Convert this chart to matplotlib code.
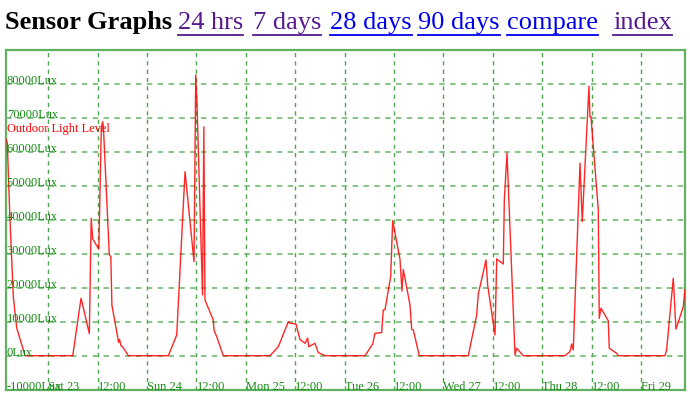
import matplotlib
matplotlib.use("Agg")
import matplotlib.pyplot as plt
from matplotlib.lines import Line2D
import pandas as pd

# ---------------- data ----------------
times = [
    "2024-03-22 13:43", "2024-03-22 14:02", "2024-03-22 14:41", "2024-03-22 15:30",
    "2024-03-22 16:19", "2024-03-22 18:20",
    "2024-03-23 05:56", "2024-03-23 07:57", "2024-03-23 08:21", "2024-03-23 09:58",
    "2024-03-23 10:25", "2024-03-23 10:47", "2024-03-23 12:16", "2024-03-23 12:53",
    "2024-03-23 13:13", "2024-03-23 13:25", "2024-03-23 14:49", "2024-03-23 15:11",
    "2024-03-23 15:27", "2024-03-23 17:05", "2024-03-23 17:18", "2024-03-23 17:40",
    "2024-03-23 18:05", "2024-03-23 19:26",
    "2024-03-24 05:09", "2024-03-24 07:12", "2024-03-24 09:13", "2024-03-24 11:24",
    "2024-03-24 11:49", "2024-03-24 12:08", "2024-03-24 13:28", "2024-03-24 13:47",
    "2024-03-24 14:04", "2024-03-24 16:05", "2024-03-24 16:15", "2024-03-24 16:55",
    "2024-03-24 18:31",
    "2024-03-25 05:52", "2024-03-25 07:53", "2024-03-25 10:19", "2024-03-25 10:43",
    "2024-03-25 12:11", "2024-03-25 13:09", "2024-03-25 14:22", "2024-03-25 15:01",
    "2024-03-25 15:16", "2024-03-25 16:48", "2024-03-25 17:36", "2024-03-25 19:14",
    "2024-03-26 04:57", "2024-03-26 06:49", "2024-03-26 07:22", "2024-03-26 09:00",
    "2024-03-26 09:23", "2024-03-26 09:48", "2024-03-26 11:11", "2024-03-26 11:40",
    "2024-03-26 13:27", "2024-03-26 13:56", "2024-03-26 14:15", "2024-03-26 15:53",
    "2024-03-26 16:17", "2024-03-26 16:41", "2024-03-26 18:08",
    "2024-03-27 06:03", "2024-03-27 08:05", "2024-03-27 08:28", "2024-03-27 10:21",
    "2024-03-27 10:45", "2024-03-27 12:32", "2024-03-27 12:57", "2024-03-27 14:33",
    "2024-03-27 14:48", "2024-03-27 15:27", "2024-03-27 17:24", "2024-03-27 17:48",
    "2024-03-27 19:24",
    "2024-03-28 05:32", "2024-03-28 06:45", "2024-03-28 07:10", "2024-03-28 07:33",
    "2024-03-28 09:11", "2024-03-28 09:44", "2024-03-28 11:22", "2024-03-28 11:36",
    "2024-03-28 11:51", "2024-03-28 13:38", "2024-03-28 13:52", "2024-03-28 14:17",
    "2024-03-28 16:03", "2024-03-28 16:18", "2024-03-28 18:06", "2024-03-28 18:29",
    "2024-03-29 05:50", "2024-03-29 06:14", "2024-03-29 07:51", "2024-03-29 08:30",
    "2024-03-29 10:17", "2024-03-29 10:42",
]
lux = [
    63800, 62600, 40000, 17300,
    8200, 0,
    0, 16900, 14900, 6500,
    40500, 34400, 31400, 67400,
    68900, 66500, 29700, 29200,
    14900, 3900, 4800, 2900,
    2600, 0,
    0, 6100, 54200, 27700,
    82700, 73800, 17900, 67400,
    16400, 10500, 7600, 5600,
    0,
    0, 2650, 10000, 9600,
    9300, 4800, 3650, 5200,
    2650, 3650, 900, 0,
    0, 3450, 6600, 6800,
    13500, 13500, 23300, 39800,
    28400, 19100, 25400, 14900,
    7800, 7600, 0,
    0, 12000, 18100, 28200,
    20800, 6100, 28500, 27000,
    45900, 59700, 200, 2200,
    0,
    0, 1200, 3450, 1700,
    56700, 39500, 79400, 70400,
    70400, 42900, 11000, 14000,
    10300, 2200, 700, 0,
    0, 1700, 22800, 7800,
    14400, 19500,
]
x_start = "2024-03-22 13:43"
x_end = "2024-03-29 10:42"
tick_times = ["2024-03-23 00:00", "2024-03-23 12:00", "2024-03-24 00:00", "2024-03-24 12:00",
              "2024-03-25 00:00", "2024-03-25 12:00", "2024-03-26 00:00", "2024-03-26 12:00",
              "2024-03-27 00:00", "2024-03-27 12:00", "2024-03-28 00:00", "2024-03-28 12:00",
              "2024-03-29 00:00"]
tick_labels = ["Sat 23", "12:00", "Sun 24", "12:00", "Mon 25", "12:00", "Tue 26", "12:00",
               "Wed 27", "12:00", "Thu 28", "12:00", "Fri 29"]
y_ticks = [-10000, 0, 10000, 20000, 30000, 40000, 50000, 60000, 70000, 80000]
y_labels = [f"{v}Lux" for v in y_ticks]
series_name = "Outdoor Light Level"
header_words = ["Sensor Graphs", "24 hrs", "7 days", "28 days", "90 days", "compare", "index"]

# ---------------- figure ----------------
W, H = 690, 398
fig = plt.figure(figsize=(W / 100, H / 100), dpi=100)
fig.patch.set_facecolor("white")
FONT = "Liberation Serif"

ax_bottom_px = 389.65
ax_h_px = 339.5
ax = fig.add_axes([6 / W, (H - ax_bottom_px) / H, 679 / W, ax_h_px / H])
t = pd.to_datetime(times)
ax.plot(t, lux, color="#ff0000", lw=1.0, alpha=0.85, zorder=3)
ax.set_xlim(pd.Timestamp(x_start), pd.Timestamp(x_end))
ax.set_ylim(-10000, 90000)

tt = pd.to_datetime(tick_times)
ax.set_xticks(tt)
ax.set_yticks(y_ticks[1:])
ax.tick_params(length=0, labelbottom=False, labelleft=False)
ax.grid(axis="y", color="#66b466", lw=1.3, linestyle=(0, (3, 3)), alpha=0.85)
ax.grid(axis="x", color="#3c9a3c", lw=1.0, linestyle=(0, (3, 3)), alpha=0.9)
for s in ax.spines.values():
    s.set_color("#62b062")
    s.set_linewidth(1.6)

lab_col = "#138a13"
fs = 8.9
for tm, lb in zip(tt, tick_labels):
    ax.text(tm, -10000, lb, ha="left", va="baseline", fontsize=fs,
            family=FONT, color=lab_col, zorder=4)
for v, lb in zip(y_ticks, y_labels):
    ax.text(0.001, v, lb, transform=ax.get_yaxis_transform(), ha="left",
            va="baseline", fontsize=fs, family=FONT, color=lab_col, zorder=4)
ax.text(0.001, (ax_bottom_px - 132.0) / ax_h_px, series_name, transform=ax.transAxes,
        ha="left", va="baseline", fontsize=fs, family=FONT, color="#ff0000", zorder=4)

# ---------------- header ----------------
word_x = [5, 178, 253, 330, 418, 507, 613]
word_col = ["#000000", "#551a8b", "#551a8b", "#0000ee", "#0000ee", "#0000ee", "#551a8b"]
base_y = (H - 29) / H
texts = []
for i, (w, xp, c) in enumerate(zip(header_words, word_x, word_col)):
    txt = fig.text(xp / W, base_y, w, ha="left", va="baseline", fontsize=19.0,
                   family=FONT, color=c, fontweight="bold" if i == 0 else "normal")
    texts.append(txt)
fig.canvas.draw()
r = fig.canvas.get_renderer()
for txt, c in zip(texts[1:], word_col[1:]):
    bb = txt.get_window_extent(r)
    yy = (H - 34.5) / H
    fig.add_artist(Line2D([bb.x0 / W, bb.x1 / W], [yy, yy], color=c, lw=1.3,
                          transform=fig.transFigure))

fig.savefig("out.png", dpi=100)
